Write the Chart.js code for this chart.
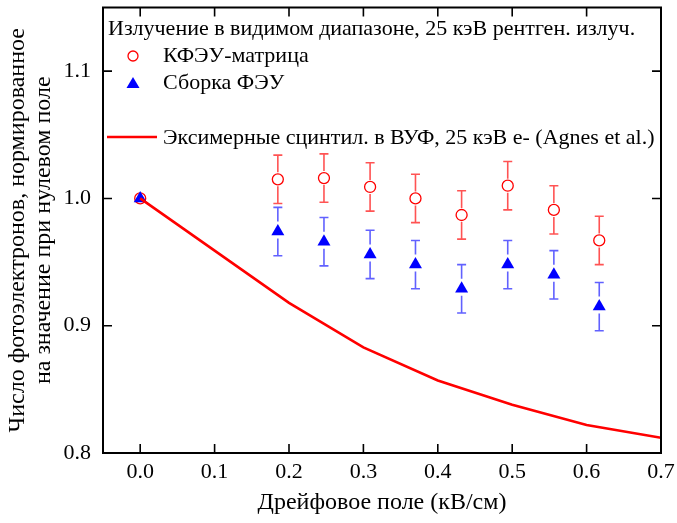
<!DOCTYPE html>
<html>
<head>
<meta charset="utf-8">
<script src="https://cdn.jsdelivr.net/npm/chart.js@4/dist/chart.umd.min.js"></script>
<style>
  html, body { margin: 0; padding: 0; background: #fff; }
  #wrap { width: 677px; height: 523px; }
</style>
</head>
<body>
<div id="wrap"><canvas id="chart"></canvas></div>
<script>
// данные
const fieldX = [0, 0.185, 0.247, 0.309, 0.370, 0.432, 0.494, 0.556, 0.617];
const kfeuY = [1.0, 1.015, 1.016, 1.009, 1.000, 0.987, 1.010, 0.991, 0.967];
const kfeuErr = [0, 0.019, 0.019, 0.019, 0.019, 0.019, 0.019, 0.019, 0.019];
const feuY = [1.0, 0.974, 0.966, 0.956, 0.948, 0.929, 0.948, 0.940, 0.915];
const feuErr = [0, 0.019, 0.019, 0.019, 0.019, 0.019, 0.019, 0.019, 0.019];
const agnesX = [0, 0.2, 0.3, 0.4, 0.5, 0.6, 0.7];
const agnesY = [1.0, 0.918, 0.883, 0.857, 0.838, 0.822, 0.812];
const xTicks = [0, 0.1, 0.2, 0.3, 0.4, 0.5, 0.6, 0.7];
const yTicks = [0.8, 0.9, 1.0, 1.1];

const legendTitle = 'Излучение в видимом диапазоне, 25 кэВ рентген. излуч.';
const FONT = '"Liberation Serif", "DejaVu Serif", serif';

// усы погрешностей с зазором вокруг маркера
const errorBars = {
    id: 'errorBars',
    beforeDatasetsDraw(chart) {
        const ctx = chart.ctx;
        const xs = chart.scales.x, ys = chart.scales.y;
        const sets = [
            { y: kfeuY, e: kfeuErr, color: 'rgba(255,40,40,0.8)', gapUp: 7, gapDown: 7 },
            { y: feuY, e: feuErr, color: 'rgba(30,30,255,0.7)', gapUp: 10, gapDown: 7 }
        ];
        ctx.save();
        ctx.lineWidth = 1.6;
        sets.forEach(s => {
            ctx.strokeStyle = s.color;
            fieldX.forEach((x, i) => {
                if (!s.e[i]) return;
                const px = xs.getPixelForValue(x);
                const pc = ys.getPixelForValue(s.y[i]);
                const pt = ys.getPixelForValue(s.y[i] + s.e[i]);
                const pb = ys.getPixelForValue(s.y[i] - s.e[i]);
                ctx.beginPath();
                ctx.moveTo(px, pt); ctx.lineTo(px, pc - s.gapUp);
                ctx.moveTo(px, pc + s.gapDown); ctx.lineTo(px, pb);
                ctx.moveTo(px - 4.5, pt); ctx.lineTo(px + 4.5, pt);
                ctx.moveTo(px - 4.5, pb); ctx.lineTo(px + 4.5, pb);
                ctx.stroke();
            });
        });
        ctx.restore();
    }
};

// рамка, внутренние риски и легенда
const frame = {
    id: 'frame',
    afterDraw(chart) {
        const ctx = chart.ctx;
        const a = chart.chartArea;
        const xs = chart.scales.x, ys = chart.scales.y;
        ctx.save();
        ctx.strokeStyle = '#000';
        ctx.lineWidth = 2;
        ctx.strokeRect(a.left, a.top, a.right - a.left, a.bottom - a.top);
        ctx.lineWidth = 1.6;
        ctx.beginPath();
        xTicks.forEach(v => {
            const p = xs.getPixelForValue(v);
            ctx.moveTo(p, a.bottom); ctx.lineTo(p, a.bottom - 9);
            ctx.moveTo(p, a.top); ctx.lineTo(p, a.top + 9);
        });
        yTicks.forEach(v => {
            const p = ys.getPixelForValue(v);
            ctx.moveTo(a.left, p); ctx.lineTo(a.left + 9, p);
            ctx.moveTo(a.right, p); ctx.lineTo(a.right - 9, p);
        });
        ctx.stroke();

        // легенда
        ctx.fillStyle = '#000';
        ctx.font = '22px ' + FONT;
        ctx.textBaseline = 'middle';
        ctx.textAlign = 'left';
        ctx.fillText(legendTitle, 108, 29);
        ctx.fillText(chart.data.datasets[0].label, 163, 56);
        ctx.fillText(chart.data.datasets[1].label, 163, 83);
        ctx.fillText(chart.data.datasets[2].label, 163, 138);

        ctx.strokeStyle = '#ff0000';
        ctx.lineWidth = 1.3;
        ctx.beginPath();
        ctx.arc(133, 56, 5, 0, Math.PI * 2);
        ctx.stroke();

        ctx.fillStyle = '#0000ff';
        ctx.beginPath();
        ctx.moveTo(133, 77); ctx.lineTo(139.5, 88); ctx.lineTo(126.5, 88);
        ctx.closePath();
        ctx.fill();

        ctx.strokeStyle = '#ff0000';
        ctx.lineWidth = 2.5;
        ctx.beginPath();
        ctx.moveTo(107, 137); ctx.lineTo(157, 137);
        ctx.stroke();
        ctx.restore();
    }
};

new Chart(document.getElementById('chart'), {
    type: 'scatter',
    data: {
        datasets: [
            {
                label: 'КФЭУ-матрица',
                data: fieldX.map((x, i) => ({ x: x, y: kfeuY[i] })),
                pointStyle: 'circle',
                pointRadius: 5.5,
                pointBorderWidth: 1.3,
                borderColor: '#ff0000',
                backgroundColor: 'rgba(255,255,255,0)',
                order: 2
            },
            {
                label: 'Сборка ФЭУ',
                data: fieldX.map((x, i) => ({ x: x, y: feuY[i] })),
                pointStyle: 'triangle',
                pointRadius: 7.5,
                pointBorderWidth: 0,
                borderColor: '#0000ff',
                backgroundColor: '#0000ff',
                order: 1
            },
            {
                label: 'Эксимерные сцинтил. в ВУФ, 25 кэВ e- (Agnes et al.)',
                data: agnesX.map((x, i) => ({ x: x, y: agnesY[i] })),
                showLine: true,
                pointRadius: 0,
                borderColor: '#ff0000',
                borderWidth: 2.6,
                backgroundColor: '#ff0000',
                tension: 0,
                order: 0
            }
        ]
    },
    options: {
        responsive: true,
        maintainAspectRatio: false,
        animation: false,
        layout: { padding: { top: 6, right: 16, left: 0, bottom: 0 } },
        plugins: {
            legend: { display: false },
            tooltip: { enabled: false }
        },
        scales: {
            x: {
                type: 'linear',
                min: -0.05,
                max: 0.7,
                afterBuildTicks: s => { s.ticks = xTicks.map(v => ({ value: v })); },
                afterFit: s => { s.height = 70; s.paddingLeft = 0; s.paddingRight = 0; },
                grid: { display: false, drawTicks: false },
                border: { display: false },
                ticks: {
                    color: '#000',
                    font: { family: FONT, size: 22 },
                    padding: 6,
                    maxRotation: 0,
                    callback: v => v.toFixed(1)
                },
                title: {
                    display: true,
                    text: 'Дрейфовое поле (кВ/см)',
                    color: '#000',
                    font: { family: FONT, size: 24 },
                    padding: { top: 0, bottom: 6 }
                }
            },
            y: {
                type: 'linear',
                min: 0.8,
                max: 1.15,
                afterBuildTicks: s => { s.ticks = yTicks.map(v => ({ value: v })); },
                afterFit: s => { s.width = 103; s.paddingTop = 0; s.paddingBottom = 0; },
                grid: { display: false, drawTicks: false },
                border: { display: false },
                ticks: {
                    color: '#000',
                    font: { family: FONT, size: 22 },
                    padding: 12,
                    callback: v => v.toFixed(1)
                },
                title: {
                    display: true,
                    text: ['Число фотоэлектронов, нормированное', 'на значение при нулевом поле'],
                    color: '#000',
                    font: { family: FONT, size: 24, lineHeight: 1.08 },
                    padding: { top: 5, bottom: 0 }
                }
            }
        }
    },
    plugins: [errorBars, frame]
});
</script>
</body>
</html>
